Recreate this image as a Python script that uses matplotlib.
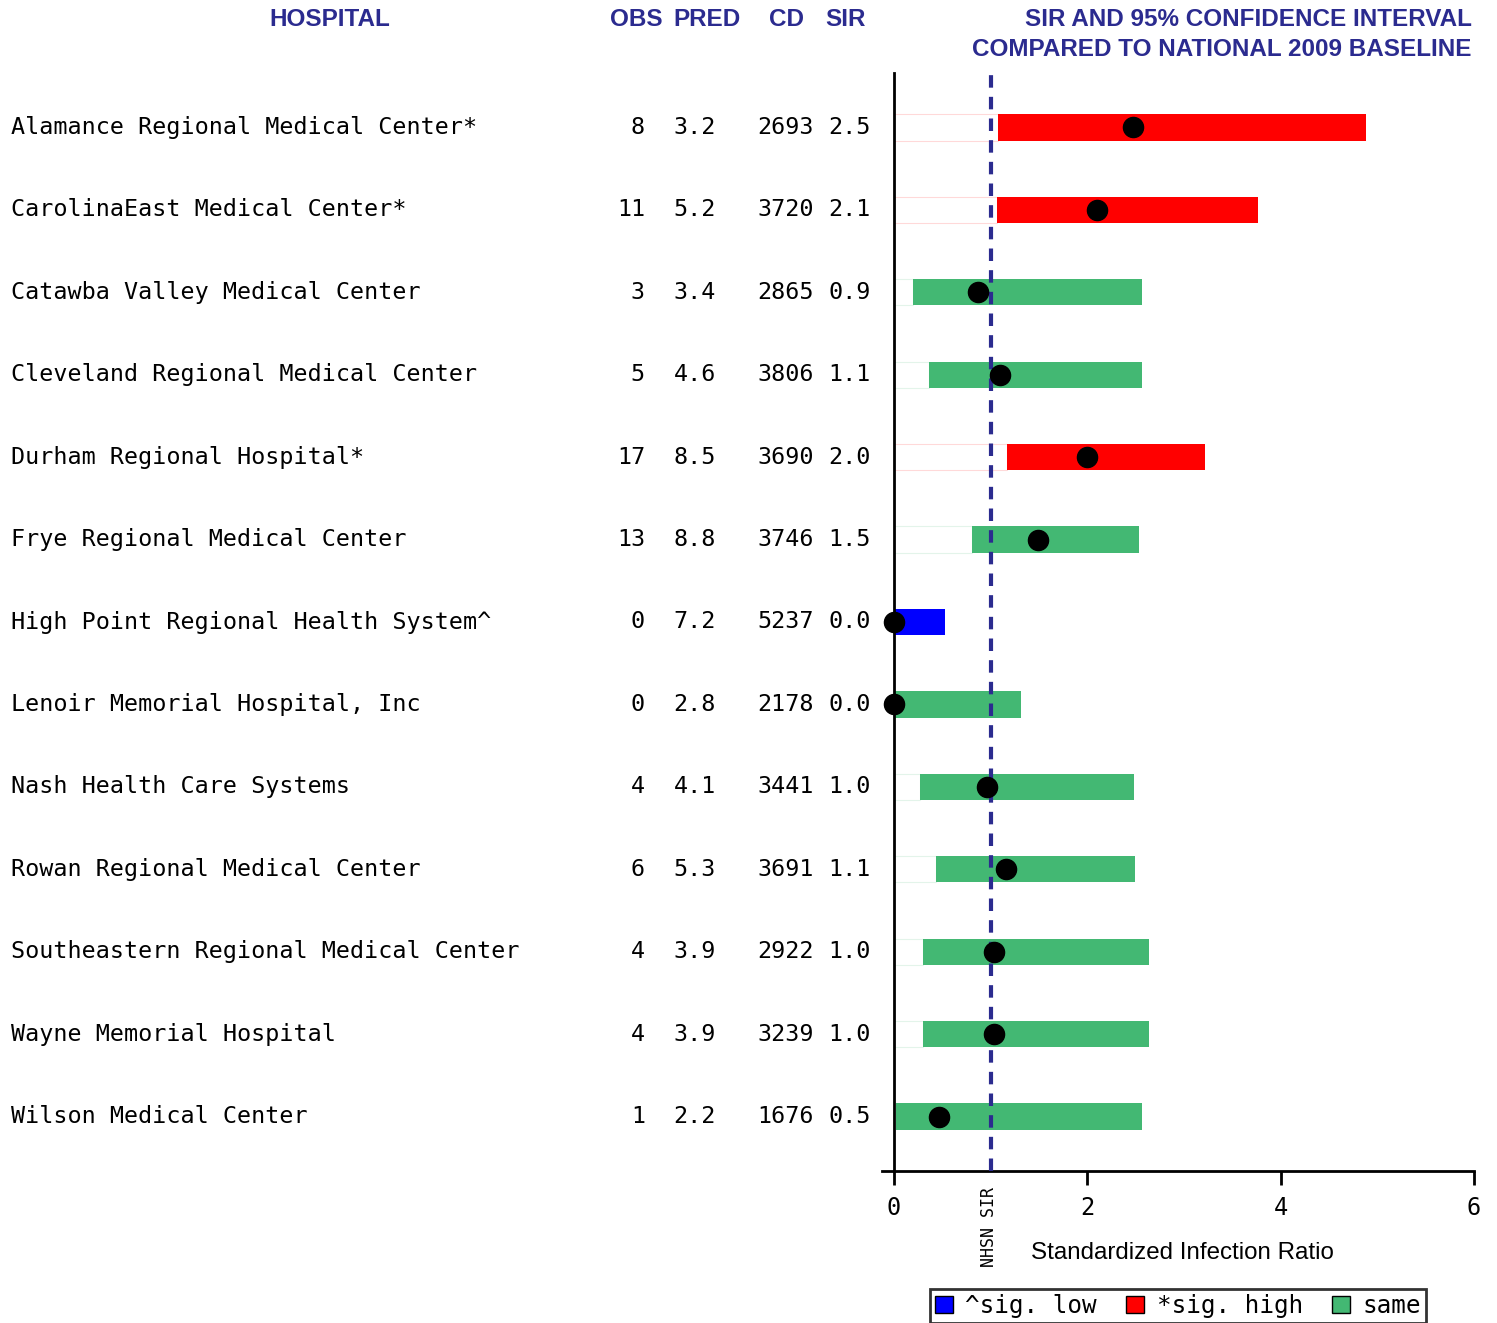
import numpy as np
import matplotlib.pyplot as plt
from matplotlib.patches import Patch
from matplotlib.transforms import blended_transform_factory

hospitals = [
    'Alamance Regional Medical Center*',
    'CarolinaEast Medical Center*',
    'Catawba Valley Medical Center',
    'Cleveland Regional Medical Center',
    'Durham Regional Hospital*',
    'Frye Regional Medical Center',
    'High Point Regional Health System^',
    'Lenoir Memorial Hospital, Inc',
    'Nash Health Care Systems',
    'Rowan Regional Medical Center',
    'Southeastern Regional Medical Center',
    'Wayne Memorial Hospital',
    'Wilson Medical Center',
]
obs = ['8', '11', '3', '5', '17', '13', '0', '0', '4', '6', '4', '4', '1']
pred = ['3.2', '5.2', '3.4', '4.6', '8.5', '8.8', '7.2', '2.8', '4.1', '5.3', '3.9', '3.9', '2.2']
cd = ['2693', '3720', '2865', '3806', '3690', '3746', '5237', '2178', '3441', '3691', '2922', '3239', '1676']
sir_text = ['2.5', '2.1', '0.9', '1.1', '2.0', '1.5', '0.0', '0.0', '1.0', '1.1', '1.0', '1.0', '0.5']
sir = [2.47, 2.10, 0.87, 1.10, 2.00, 1.49, 0.0, 0.0, 0.96, 1.16, 1.03, 1.03, 0.46]
ci_low = [1.08, 1.06, 0.20, 0.36, 1.17, 0.81, 0.0, 0.0, 0.27, 0.43, 0.30, 0.30, 0.02]
ci_high = [4.88, 3.77, 2.57, 2.57, 3.22, 2.53, 0.53, 1.31, 2.48, 2.49, 2.64, 2.64, 2.57]
category = ['high', 'high', 'same', 'same', 'high', 'same', 'low', 'same',
            'same', 'same', 'same', 'same', 'same']

colors = {'low': '#0000ff', 'high': '#ff0000', 'same': '#43b873'}
navy = '#2b2b8f'
mono = 'DejaVu Sans Mono'
sans = 'Liberation Sans'
fs = 16.8

fig = plt.figure(figsize=(14.97, 13.23), dpi=100)
ax = fig.add_axes([882 / 1497, 1 - 1171 / 1323, (1474 - 882) / 1497, (1171 - 73) / 1323])

y = np.arange(len(hospitals))
for i in y:
    c = colors[category[i]]
    # faint stub from 0 to the lower limit
    if ci_low[i] > 0.05:
        ax.barh(i, ci_low[i], left=0, height=0.32, color='white',
                edgecolor=c, linewidth=0.8, alpha=0.15)
    ax.barh(i, ci_high[i] - ci_low[i], left=ci_low[i], height=0.32,
            color=c, edgecolor='none', zorder=2)

ax.axvline(1.0, color=navy, linestyle=(0, (3, 2.2)), linewidth=3, zorder=3)
ax.scatter(sir, y, s=210, color='black', zorder=4, clip_on=False)

ax.set_xlim(-0.125, 6)
ax.set_ylim(12.66, -0.66)
ax.spines['top'].set_visible(False)
ax.spines['right'].set_visible(False)
ax.spines['left'].set_position(('data', 0))
ax.spines['left'].set_linewidth(2)
ax.spines['bottom'].set_linewidth(2)
ax.set_yticks([])
ax.set_xticks([0, 2, 4, 6])
ax.tick_params(axis='x', direction='out', length=10, width=2, pad=8,
               labelsize=17)
for lab in ax.get_xticklabels():
    lab.set_fontfamily(mono)

tr = blended_transform_factory(ax.transData, ax.transAxes)
ax.text(0.985, -0.015, 'NHSN SIR', transform=tr, rotation=90, ha='center',
        va='top', fontsize=12, family=mono)
ax.text(1182 / 1497, 1 - 1253 / 1323, 'Standardized Infection Ratio',
        transform=fig.transFigure, ha='center', va='center', fontsize=17.4,
        family=sans)

# table on the left
tt = blended_transform_factory(fig.transFigure, ax.transData)
for i in y:
    ax.text(11 / 1497, i, hospitals[i], transform=tt, ha='left', va='center',
            fontsize=fs, family=mono)
    ax.text(645 / 1497, i, obs[i], transform=tt, ha='right', va='center',
            fontsize=fs, family=mono)
    ax.text(716 / 1497, i, pred[i], transform=tt, ha='right', va='center',
            fontsize=fs, family=mono)
    ax.text(814 / 1497, i, cd[i], transform=tt, ha='right', va='center',
            fontsize=fs, family=mono)
    ax.text(871 / 1497, i, sir_text[i], transform=tt, ha='right', va='center',
            fontsize=fs, family=mono)

hdr = dict(transform=fig.transFigure, va='center', fontsize=17.5,
           fontweight='bold', family=sans, color=navy)
fig.text(330 / 1497, 1 - 20 / 1323, 'HOSPITAL', ha='center', **hdr)
fig.text(636 / 1497, 1 - 20 / 1323, 'OBS', ha='center', **hdr)
fig.text(707 / 1497, 1 - 20 / 1323, 'PRED', ha='center', **hdr)
fig.text(787 / 1497, 1 - 20 / 1323, 'CD', ha='center', **hdr)
fig.text(845 / 1497, 1 - 20 / 1323, 'SIR', ha='center', **hdr)
fig.text(1472 / 1497, 1 - 20 / 1323, 'SIR AND 95% CONFIDENCE INTERVAL',
         ha='right', **hdr)
fig.text(1472 / 1497, 1 - 49 / 1323, 'COMPARED TO NATIONAL 2009 BASELINE',
         ha='right', **hdr)

handles = [Patch(facecolor=colors['low'], edgecolor='black', label='^sig. low'),
           Patch(facecolor=colors['high'], edgecolor='black', label='*sig. high'),
           Patch(facecolor=colors['same'], edgecolor='black', label='same')]
leg = fig.legend(handles=handles, loc='center', ncol=3,
                 bbox_to_anchor=(1178 / 1497, 1 - 1306 / 1323),
                 prop={'family': mono, 'size': 17.5}, frameon=True,
                 fancybox=False, handlelength=0.75, handleheight=0.75,
                 handletextpad=0.5, columnspacing=1.2, borderpad=0.2,
                 borderaxespad=0)
leg.get_frame().set_edgecolor('black')
leg.get_frame().set_linewidth(2)

fig.savefig('out.png', dpi=100)
